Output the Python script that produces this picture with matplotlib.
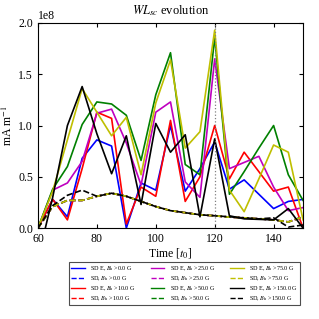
import matplotlib
matplotlib.use('Agg')
import matplotlib.pyplot as plt
import numpy as np

# time axis [t_0]
t = [60, 65, 70, 75, 80, 85, 90, 95, 100, 105, 110, 115, 120, 125, 130, 135, 140, 145, 150]

# SD E curves (units of 1e8 mA/m)
sde_0 = [0.0, 0.28, 0.11, 0.68, 0.86, 0.80, 0.0, 0.44, 0.37, 1.0, 0.36, 0.58, 0.84, 0.38, 0.47, 0.33, 0.19, 0.26, 0.28]
sde_10 = [0.0, 0.28, 0.08, 0.58, 1.13, 1.07, 0.04, 0.40, 0.31, 1.05, 0.26, 0.50, 1.00, 0.48, 0.74, 0.55, 0.36, 0.40, 0.0]
sde_25 = [0.0, 0.37, 0.44, 0.65, 1.12, 1.16, 0.83, 0.42, 1.13, 1.23, 0.45, 0.30, 1.65, 0.58, 0.64, 0.70, 0.40, 0.17, 0.20]
sde_50 = [0.0, 0.38, 0.60, 1.01, 1.23, 1.21, 1.10, 0.66, 1.30, 1.71, 0.62, 0.52, 1.86, 0.33, 0.55, 0.78, 1.00, 0.52, 0.27]
sde_75 = [0.0, 0.36, 0.86, 1.36, 1.13, 0.90, 1.08, 0.52, 1.22, 1.64, 0.78, 0.94, 1.93, 0.37, 0.16, 0.48, 0.81, 0.74, 0.08]
sde_150 = [-0.3, 0.30, 1.00, 1.38, 0.92, 0.53, 0.90, 0.23, 1.02, 0.74, 0.91, 0.11, 0.87, 0.12, 0.09, 0.085, 0.08, 0.19, 0.0]

# SD curves
sd_0 = [0.0, 0.21, 0.27, 0.27, 0.31, 0.34, 0.31, 0.26, 0.21, 0.17, 0.15, 0.13, 0.12, 0.107, 0.10, 0.09, 0.08, 0.06, 0.11]
sd_10 = [0.0, 0.21, 0.27, 0.27, 0.31, 0.34, 0.31, 0.26, 0.21, 0.17, 0.15, 0.13, 0.12, 0.107, 0.10, 0.09, 0.08, 0.06, 0.11]
sd_25 = [0.0, 0.21, 0.27, 0.27, 0.31, 0.34, 0.31, 0.26, 0.21, 0.17, 0.15, 0.13, 0.12, 0.107, 0.10, 0.09, 0.08, 0.06, 0.11]
sd_50 = [0.0, 0.21, 0.27, 0.27, 0.31, 0.34, 0.31, 0.26, 0.21, 0.17, 0.15, 0.13, 0.12, 0.107, 0.10, 0.09, 0.08, 0.06, 0.11]
sd_75 = [0.0, 0.21, 0.27, 0.27, 0.31, 0.34, 0.31, 0.26, 0.21, 0.17, 0.15, 0.13, 0.12, 0.107, 0.10, 0.09, 0.08, 0.06, 0.11]
sd_150 = [0.0, 0.22, 0.32, 0.37, 0.31, 0.34, 0.31, 0.26, 0.21, 0.17, 0.15, 0.13, 0.12, 0.11, 0.10, 0.09, 0.10, 0.01, 0.03]

thresholds = ['0.0', '10.0', '25.0', '50.0', '75.0', '150.0']
colors = ['b', 'r', 'm', 'g', 'y', 'k']
sde_all = [sde_0, sde_10, sde_25, sde_50, sde_75, sde_150]
sd_all = [sd_0, sd_10, sd_25, sd_50, sd_75, sd_150]

plt.rcParams['font.family'] = ['Liberation Serif', 'DejaVu Serif']
plt.rcParams['mathtext.fontset'] = 'stix'

fig = plt.figure(figsize=(3.19, 3.19), dpi=100)
ax = fig.add_axes([0.119, 0.285, 0.831, 0.643])

for i in range(len(thresholds)):
    ax.plot(t, np.array(sde_all[i]) * 1e8, color=colors[i], lw=1.2,
            label=r'SD E, $B_\mathrm{h}$ >' + thresholds[i] + ' G')
    ax.plot(t, np.array(sd_all[i]) * 1e8, color=colors[i], lw=1.2, linestyle='--',
            label=r'SD, $B_\mathrm{h}$ >' + thresholds[i] + ' G')

ax.axvline(120, color='gray', linestyle=':', lw=0.9)

ax.set_xlim(60, 150)
ax.set_ylim(0, 2e8)
ax.set_xticks([60, 80, 100, 120, 140])
ax.set_yticks([0, 0.5e8, 1.0e8, 1.5e8, 2.0e8])
ax.tick_params(direction='in', top=True, right=True, labelsize=8.5, length=3)
ax.yaxis.get_offset_text().set_fontsize(8.5)

ax.set_title(r'$WL_{sc}$ evolution', fontsize=9)
ax.set_xlabel(r'Time [$t_0$]', fontsize=8.5, labelpad=1)
ax.set_ylabel(r'mA m$^{-1}$', fontsize=8.5, labelpad=2)

leg = ax.legend(ncol=3, loc='upper right', bbox_to_anchor=(1.0, -0.15),
                fontsize=4.4, fancybox=False, framealpha=1, edgecolor='0.3',
                handlelength=2.2, handletextpad=0.9, columnspacing=2.4,
                labelspacing=0.2, borderpad=0.35,
                handler_map=None)
leg.get_frame().set_linewidth(0.8)
for line in leg.get_lines():
    line.set_linewidth(1.0)

plt.savefig('out.png', dpi=100)
